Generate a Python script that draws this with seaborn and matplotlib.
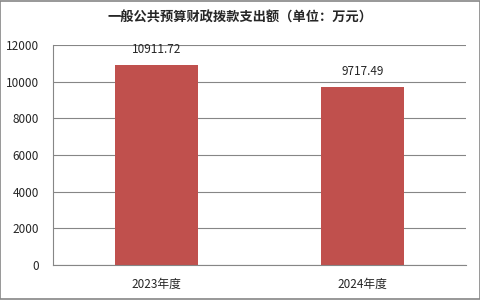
import matplotlib
matplotlib.use("Agg")
import matplotlib.pyplot as plt
import seaborn as sns
import pandas as pd
from matplotlib.patches import Rectangle

categories = ["2023年度", "2024年度"]
values = [10911.72, 9717.49]
yticks = [0, 2000, 4000, 6000, 8000, 10000, 12000]
title = "一般公共预算财政拨款支出额（单位：万元）"

sns.set_theme(style="white")
plt.rcParams['font.family'] = ['Noto Sans CJK SC', 'DejaVu Sans']

df = pd.DataFrame({"cat": categories, "val": values})
fig = plt.figure(figsize=(4.81, 3.0), dpi=100)
ax = fig.add_axes([0.110, 0.117, 0.859, 0.733])
sns.barplot(data=df, x="cat", y="val", color="#C0504D", width=0.4, saturation=1,
            linewidth=0, ax=ax)
ax.set_ylim(0, 12000)
ax.set_yticks(yticks)
ax.set_yticklabels([str(t) for t in yticks], fontsize=8.5)
ax.set_xlim(-0.5, 1.5)
ax.tick_params(axis='x', labelsize=8.5, length=0, pad=9)
ax.tick_params(axis='y', length=0, pad=10)
ax.set_xlabel("")
ax.set_ylabel("")
ax.yaxis.grid(True, color="#868686", linewidth=0.8)
ax.set_axisbelow(True)
for s in ["top", "right"]:
    ax.spines[s].set_visible(False)
for s in ["left", "bottom"]:
    ax.spines[s].set_color("#868686")
    ax.spines[s].set_linewidth(0.8)
for i, v in enumerate(values):
    ax.text(i, v + 500, f"{v:.2f}", ha="center", va="bottom", fontsize=8.5)
fig.text(0.5, 0.94, title, ha="center", va="center", fontsize=9.5, fontweight="bold")
fig.patches.append(Rectangle((0.001, 0.002), 0.997, 0.995, transform=fig.transFigure,
                             fill=False, edgecolor="#868686", linewidth=1.2))
fig.savefig("out.png", dpi=100)
